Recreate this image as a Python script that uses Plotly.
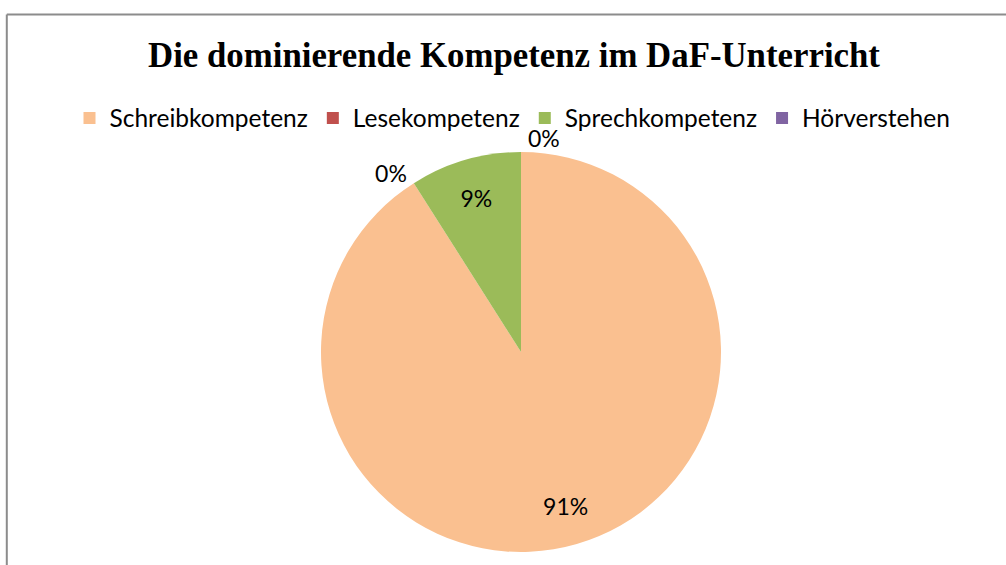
import plotly.graph_objects as go

categories = ["Schreibkompetenz", "Lesekompetenz", "Sprechkompetenz", "Hörverstehen"]
values = [91, 0, 9, 0]
colors = ["#FAC090", "#C0504D", "#9BBB59", "#8064A2"]
text_positions = ["inside", "outside", "inside", "outside"]

W, H = 1006, 565
cx, cy, r = 521, 352, 200
domain = dict(x=[(cx - r) / W, (cx + r) / W], y=[1 - (cy + r) / H, 1 - (cy - r) / H])

# main pie (slices + legend)
pie_main = go.Pie(
    labels=categories,
    values=values,
    marker=dict(colors=colors, line=dict(width=0)),
    sort=False,
    direction="clockwise",
    rotation=0,
    textinfo="none",
    showlegend=True,
    domain=domain,
    hoverinfo="label+percent",
)

# transparent overlay pie only used to place the percentage labels further out
pie_labels = go.Pie(
    labels=categories,
    values=values,
    marker=dict(colors=["rgba(0,0,0,0)"] * len(values), line=dict(width=0)),
    sort=False,
    direction="clockwise",
    rotation=0,
    hole=0.6,
    texttemplate="%{percent:.0%}",
    textposition=text_positions,
    insidetextorientation="horizontal",
    textfont=dict(family="Lato", size=23, color="#000000"),
    outsidetextfont=dict(family="Lato", size=23, color="#000000"),
    showlegend=False,
    domain=domain,
    hoverinfo="skip",
)

fig = go.Figure([pie_main, pie_labels])

fig.update_layout(
    width=W, height=H,
    margin=dict(l=0, r=0, t=0, b=0),
    paper_bgcolor="white",
    plot_bgcolor="white",
    title=dict(
        text="<b>Die dominierende Kompetenz im DaF-Unterricht</b>",
        font=dict(family="Liberation Serif", size=34.8, color="#000000"),
        x=514 / W, xanchor="center",
        y=1 - 55 / H, yanchor="middle", yref="container",
    ),
    legend=dict(
        orientation="h",
        x=512.5 / W, xanchor="center",
        y=1 - 118 / H, yanchor="middle",
        font=dict(family="Lato", size=24.5, color="#000000"),
        bgcolor="rgba(0,0,0,0)",
    ),
    shapes=[
        dict(type="line", xref="paper", yref="paper", x0=6.8 / W, x1=1.02, y0=1 - 14.5 / H, y1=1 - 14.5 / H,
             line=dict(color="#8C8C8C", width=2)),
        dict(type="line", xref="paper", yref="paper", x0=6.8 / W, x1=6.8 / W, y0=-0.02, y1=1 - 14.5 / H,
             line=dict(color="#8C8C8C", width=2)),
    ],
)

fig.write_html("out.html", config={"displayModeBar": False},
               post_script="document.body.style.margin='0px';")
